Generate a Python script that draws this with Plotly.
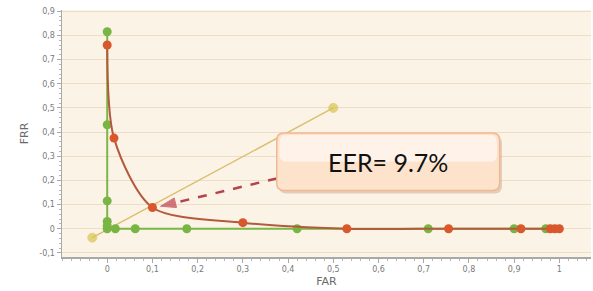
import plotly.graph_objects as go

# FAR / FRR curve data
green_far = [0, 0, 0, 0, 0, 0.0, 0.018, 0.062, 0.176, 0.42, 0.71, 0.90, 0.97]
green_frr = [0.815, 0.43, 0.115, 0.03, 0.012, 0.0, 0.0, 0.0, 0.0, 0.0, 0.0, 0.0, 0.0]

red_far = [0, 0.015, 0.10, 0.30, 0.53, 0.755, 0.915, 0.98, 0.99, 1.0]
red_frr = [0.76, 0.375, 0.088, 0.025, 0.0, 0.0, 0.0, 0.0, 0.0, 0.0]

diag_far = [-0.033, 0.5]
diag_frr = [-0.037, 0.5]

arrow_x = [0.375, 0.118]
arrow_y = [0.208, 0.093]

box_x = [0.375, 0.868]
box_y = [0.158, 0.396]
label = "EER= 9.7%"

x_ticks = [0, 0.1, 0.2, 0.3, 0.4, 0.5, 0.6, 0.7, 0.8, 0.9, 1]
x_ticktext = ["0", "0,1", "0,2", "0,3", "0,4", "0,5", "0,6", "0,7", "0,8", "0,9", "1"]
y_ticks = [-0.1, 0, 0.1, 0.2, 0.3, 0.4, 0.5, 0.6, 0.7, 0.8, 0.9]
y_ticktext = ["-0,1", "0", "0,1", "0,2", "0,3", "0,4", "0,5", "0,6", "0,7", "0,8", "0,9"]

fig = go.Figure()

fig.add_trace(go.Scatter(x=diag_far, y=diag_frr, mode="lines+markers",
                         line=dict(color="#d9bf6e", width=1.5),
                         marker=dict(color="#d6c64a", size=[9, 9]),
                         hoverinfo="skip"))
fig.add_trace(go.Scatter(x=green_far, y=green_frr, mode="lines+markers",
                         line=dict(color="#7ab648", width=2),
                         marker=dict(color="#79b544", size=9),
                         hoverinfo="skip"))
fig.add_trace(go.Scatter(x=red_far, y=red_frr, mode="lines+markers",
                         line=dict(color="#b35a3c", width=2, shape="spline", smoothing=0.8),
                         marker=dict(color="#d9572c", size=9),
                         hoverinfo="skip"))
fig.add_trace(go.Scatter(x=arrow_x, y=arrow_y, mode="lines+markers",
                         line=dict(color="#b5444a", width=2.5, dash="dash"),
                         marker=dict(symbol="arrow", size=[0, 16], color="#c0404a",
                                     angleref="previous"),
                         hoverinfo="skip"))

# rounded text box with shadow
def rounded(x0, x1, y0, y1, rx, ry):
    return (f"M{x0+rx},{y0} L{x1-rx},{y0} Q{x1},{y0} {x1},{y0+ry} "
            f"L{x1},{y1-ry} Q{x1},{y1} {x1-rx},{y1} L{x0+rx},{y1} "
            f"Q{x0},{y1} {x0},{y1-ry} L{x0},{y0+ry} Q{x0},{y0} {x0+rx},{y0} Z")

rx, ry = 0.016, 0.03
fig.add_shape(type="path", xref="x", yref="y",
              path=rounded(box_x[0] + 0.005, box_x[1] + 0.005, box_y[0] - 0.012, box_y[1] - 0.012, rx, ry),
              fillcolor="rgba(190,150,120,0.4)", line=dict(width=0))
fig.add_shape(type="path", xref="x", yref="y",
              path=rounded(box_x[0], box_x[1], box_y[0], box_y[1], rx, ry),
              fillcolor="#fde2cc", line=dict(color="#efb995", width=1.5))
fig.add_shape(type="path", xref="x", yref="y",
              path=rounded(box_x[0] + 0.006, box_x[1] - 0.006, (box_y[0] + box_y[1]) / 2, box_y[1] - 0.008, rx, ry),
              fillcolor="rgba(255,250,245,0.7)", line=dict(width=0))
fig.add_annotation(x=(box_x[0] + box_x[1]) / 2, y=(box_y[0] + box_y[1]) / 2, xref="x", yref="y",
                   text=label, showarrow=False,
                   font=dict(family="Lato", size=25, color="#111111"))

axis_common = dict(showline=True, linecolor="#a8a8a8", linewidth=1.5,
                   ticks="outside", ticklen=4, tickcolor="#a8a8a8",
                   tickfont=dict(family="DejaVu Sans", size=8, color="#7a7a7a"),
                   zeroline=False, automargin=False)

fig.update_xaxes(range=[-0.1, 1.07], tickvals=x_ticks, ticktext=x_ticktext,
                 showgrid=False,
                 minor=dict(dtick=0.02, ticks="outside", ticklen=2, tickcolor="#b8b8b8"),
                 title=dict(text="FAR", font=dict(family="DejaVu Sans", size=11, color="#6a6a6a"), standoff=4),
                 **axis_common)
fig.update_yaxes(range=[-0.117, 0.905], tickvals=y_ticks, ticktext=y_ticktext,
                 showgrid=True, gridcolor="#eddcc6", gridwidth=1,
                 minor=dict(dtick=0.02, ticks="outside", ticklen=2, tickcolor="#b8b8b8", showgrid=False),
                 title=dict(text="FRR", font=dict(family="DejaVu Sans", size=11, color="#6a6a6a"), standoff=8),
                 **axis_common)

fig.update_layout(width=593, height=291, margin=dict(l=62, r=2, t=10, b=34),
                  paper_bgcolor="white", plot_bgcolor="#fcf3e7",
                  showlegend=False)

fig.write_html("out.html", config={"displayModeBar": False, "staticPlot": True},
               post_script="document.body.style.margin='0';document.body.style.overflow='hidden';")
